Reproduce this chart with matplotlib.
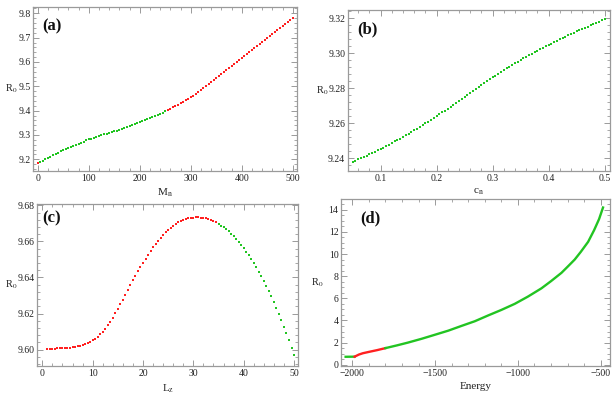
import matplotlib
matplotlib.use("Agg")
import matplotlib.pyplot as plt
from matplotlib.ticker import MultipleLocator, FormatStrFormatter

plt.rcParams['font.family'] = ['Liberation Serif', 'DejaVu Serif']
plt.rcParams['mathtext.fontset'] = 'stix'
plt.rcParams['axes.unicode_minus'] = True

# ---------------- data ----------------
# (a) R0 vs M_n
a_red1_x = [0]
a_red1_y = [9.184]
a_green_x = [5, 10, 15, 20, 25, 30, 35, 40, 45, 50, 55, 60, 65, 70, 75, 80, 85, 90, 95, 100,
             105, 110, 115, 120, 125, 130, 135, 140, 145, 150, 155, 160, 165, 170, 175, 180,
             185, 190, 195, 200, 205, 210, 215, 220, 225, 230, 235, 240, 245, 250]
a_green_y = [9.189, 9.195, 9.200, 9.206, 9.211, 9.216, 9.222, 9.227, 9.233, 9.238,
             9.242, 9.247, 9.251, 9.256, 9.260, 9.264, 9.269, 9.273, 9.278, 9.282,
             9.285, 9.289, 9.292, 9.296, 9.299, 9.302, 9.305, 9.309, 9.312, 9.315,
             9.318, 9.322, 9.325, 9.329, 9.332, 9.336, 9.340, 9.344, 9.348, 9.352,
             9.356, 9.360, 9.364, 9.368, 9.373, 9.378, 9.382, 9.387, 9.392, 9.397]
a_red2_x = [255, 260, 265, 270, 275, 280, 285, 290, 295, 300, 305, 310, 315, 320, 325,
            330, 335, 340, 345, 350, 355, 360, 365, 370, 375, 380, 385, 390, 395, 400,
            405, 410, 415, 420, 425, 430, 435, 440, 445, 450, 455, 460, 465, 470, 475,
            480, 485, 490, 495, 500]
a_red2_y = [9.402, 9.408, 9.413, 9.419, 9.424, 9.430, 9.436, 9.442, 9.448, 9.455,
            9.462, 9.470, 9.477, 9.485, 9.493, 9.501, 9.509, 9.517, 9.525, 9.533,
            9.541, 9.549, 9.558, 9.566, 9.574, 9.582, 9.590, 9.599, 9.607, 9.615,
            9.623, 9.632, 9.640, 9.649, 9.657, 9.665, 9.674, 9.682, 9.691, 9.699,
            9.707, 9.716, 9.724, 9.733, 9.741, 9.749, 9.757, 9.766, 9.774, 9.782]

# (b) R0 vs c_n
b_x = [0.050, 0.055, 0.060, 0.065, 0.070, 0.075, 0.080, 0.085, 0.090, 0.095,
       0.100, 0.105, 0.110, 0.115, 0.120, 0.125, 0.130, 0.135, 0.140, 0.145,
       0.150, 0.155, 0.160, 0.165, 0.170, 0.175, 0.180, 0.185, 0.190, 0.195,
       0.200, 0.205, 0.210, 0.215, 0.220, 0.225, 0.230, 0.235, 0.240, 0.245,
       0.250, 0.255, 0.260, 0.265, 0.270, 0.275, 0.280, 0.285, 0.290, 0.295,
       0.300, 0.305, 0.310, 0.315, 0.320, 0.325, 0.330, 0.335, 0.340, 0.345,
       0.350, 0.355, 0.360, 0.365, 0.370, 0.375, 0.380, 0.385, 0.390, 0.395,
       0.400, 0.405, 0.410, 0.415, 0.420, 0.425, 0.430, 0.435, 0.440, 0.445,
       0.450, 0.455, 0.460, 0.465, 0.470, 0.475, 0.480, 0.485, 0.490, 0.495, 0.500]
b_y = [9.2378, 9.2385, 9.2392, 9.2399, 9.2406, 9.2414, 9.2421, 9.2429, 9.2437, 9.2444,
       9.2452, 9.2460, 9.2469, 9.2477, 9.2486, 9.2495, 9.2503, 9.2512, 9.2521, 9.2530,
       9.2540, 9.2549, 9.2559, 9.2569, 9.2579, 9.2589, 9.2599, 9.2609, 9.2619, 9.2629,
       9.2640, 9.2651, 9.2661, 9.2672, 9.2683, 9.2694, 9.2705, 9.2716, 9.2727, 9.2739,
       9.2750, 9.2761, 9.2772, 9.2784, 9.2795, 9.2806, 9.2817, 9.2829, 9.2840, 9.2851,
       9.2862, 9.2872, 9.2883, 9.2893, 9.2903, 9.2913, 9.2923, 9.2933, 9.2943, 9.2952,
       9.2962, 9.2971, 9.2980, 9.2988, 9.2997, 9.3006, 9.3014, 9.3023, 9.3031, 9.3040,
       9.3048, 9.3056, 9.3064, 9.3071, 9.3079, 9.3087, 9.3094, 9.3102, 9.3110, 9.3117,
       9.3125, 9.3132, 9.3139, 9.3146, 9.3153, 9.3160, 9.3167, 9.3174, 9.3181, 9.3188, 9.3195]

# (c) R0 vs L_z
c_red_x = [1, 1.5, 2, 2.5, 3, 3.5, 4, 4.5, 5, 5.5, 6, 6.5, 7, 7.5, 8, 8.5, 9, 9.5, 10, 10.5,
           11, 11.5, 12, 12.5, 13, 13.5, 14, 14.5, 15, 15.5, 16, 16.5, 17, 17.5, 18, 18.5,
           19, 19.5, 20, 20.5, 21, 21.5, 22, 22.5, 23, 23.5, 24, 24.5, 25, 25.5, 26, 26.5,
           27, 27.5, 28, 28.5, 29, 29.5, 30, 30.5, 31, 31.5, 32, 32.5, 33, 33.5, 34, 34.5]
c_red_y = [9.6006, 9.6006, 9.6006, 9.6006, 9.6007, 9.6007, 9.6008, 9.6009, 9.6010, 9.6011,
           9.6013, 9.6015, 9.6018, 9.6021, 9.6025, 9.6030, 9.6036, 9.6043, 9.6051, 9.6061,
           9.6073, 9.6086, 9.6100, 9.6117, 9.6135, 9.6155, 9.6177, 9.6201, 9.6225, 9.6251,
           9.6277, 9.6304, 9.6331, 9.6358, 9.6384, 9.6409, 9.6434, 9.6458, 9.6481, 9.6504,
           9.6526, 9.6547, 9.6567, 9.6586, 9.6604, 9.6621, 9.6636, 9.6651, 9.6664, 9.6676,
           9.6687, 9.6697, 9.6705, 9.6712, 9.6718, 9.6723, 9.6727, 9.6730, 9.6732, 9.6733,
           9.6733, 9.6732, 9.6730, 9.6727, 9.6723, 9.6718, 9.6712, 9.6705]
c_green_x = [35, 35.5, 36, 36.5, 37, 37.5, 38, 38.5, 39, 39.5, 40, 40.5, 41, 41.5, 42, 42.5,
             43, 43.5, 44, 44.5, 45, 45.5, 46, 46.5, 47, 47.5, 48, 48.5, 49, 49.5, 50]
c_green_y = [9.6697, 9.6688, 9.6678, 9.6667, 9.6655, 9.6642, 9.6628, 9.6613, 9.6597, 9.6580,
             9.6562, 9.6543, 9.6523, 9.6502, 9.6480, 9.6457, 9.6433, 9.6408, 9.6382, 9.6355,
             9.6326, 9.6296, 9.6265, 9.6233, 9.6199, 9.6164, 9.6128, 9.6091, 9.6052, 9.6012,
             9.5971]

# (d) R0 vs Energy
d_green1_x = [-2040, -1986]
d_green1_y = [0.72, 0.73]
d_red_x = [-1986, -1960, -1936, -1900, -1850, -1800]
d_red_y = [0.73, 0.92, 1.04, 1.16, 1.32, 1.50]
d_green2_x = [-1800, -1730, -1664, -1580, -1503, -1420, -1342, -1260, -1180, -1100, -1019,
              -940, -858, -800, -737, -700, -657, -620, -576, -540, -510, -486]
d_green2_y = [1.50, 1.75, 2.00, 2.35, 2.70, 3.08, 3.50, 3.93, 4.45, 4.95, 5.50,
              6.15, 6.90, 7.55, 8.30, 8.85, 9.50, 10.20, 11.10, 12.15, 13.15, 14.20]

RED = '#ff2020'
GREEN = '#22c422'
FRAME = '#9a9a9a'
TXT = '#222222'

fig = plt.figure(figsize=(6.16, 3.96), dpi=100)

def style(ax, xmaj, xmin, ymaj, ymin, yfmt=None, xfmt=None):
    for s in ax.spines.values():
        s.set_color(FRAME)
        s.set_linewidth(0.9)
    ax.xaxis.set_major_locator(MultipleLocator(xmaj))
    ax.xaxis.set_minor_locator(MultipleLocator(xmin))
    ax.yaxis.set_major_locator(MultipleLocator(ymaj))
    ax.yaxis.set_minor_locator(MultipleLocator(ymin))
    if yfmt:
        ax.yaxis.set_major_formatter(FormatStrFormatter(yfmt))
    if xfmt:
        ax.xaxis.set_major_formatter(FormatStrFormatter(xfmt))
    ax.tick_params(which='both', direction='in', top=True, right=True,
                   color=FRAME, labelcolor=TXT, labelsize=7, pad=2)
    ax.tick_params(which='major', length=4, width=0.7)
    ax.tick_params(which='minor', length=2, width=0.6)

def panel_label(ax, s, x=0.035, y=0.93):
    ax.text(x, y, s, transform=ax.transAxes, fontsize=12, fontweight='bold',
            va='top', ha='left', color='#111111')

def rlabel(ax, xoff):
    ax.set_ylabel(r'R$_0$', rotation=0, fontsize=7.5, color=TXT, ha='center', va='center')
    ax.yaxis.set_label_coords(xoff, 0.5)

ms = 1.6

# (a)
ax = fig.add_axes([0.0541, 0.5682, 0.4281, 0.4134])
ax.plot(a_green_x, a_green_y, 's', color=GREEN, ms=ms, mew=0)
ax.plot(a_red1_x, a_red1_y, 's', color=RED, ms=ms, mew=0)
ax.plot(a_red2_x, a_red2_y, 's', color=RED, ms=ms, mew=0)
ax.set_xlim(-8.6, 508.5)
ax.set_ylim(9.152, 9.8247)
style(ax, 100, 20, 0.1, 0.02)
ax.set_xlabel(r'M$_\mathrm{n}$', fontsize=8, color=TXT, labelpad=3)
rlabel(ax, -0.083)
panel_label(ax, '(a)')

# (b)
ax = fig.add_axes([0.5649, 0.5682, 0.4248, 0.4066])
ax.plot(b_x, b_y, 's', color=GREEN, ms=ms, mew=0)
ax.set_xlim(0.0416, 0.509)
ax.set_ylim(9.2326, 9.3248)
style(ax, 0.1, 0.02, 0.02, 0.004, yfmt='%.2f')
ax.set_xlabel(r'c$_\mathrm{n}$', fontsize=8, color=TXT, labelpad=3)
rlabel(ax, -0.098)
panel_label(ax, '(b)')

# (c)
ax = fig.add_axes([0.0606, 0.075, 0.4237, 0.4098])
ax.plot(c_red_x, c_red_y, 's', color=RED, ms=ms, mew=0)
ax.plot(c_green_x, c_green_y, 's', color=GREEN, ms=ms, mew=0)
ax.set_xlim(-0.99, 50.85)
ax.set_ylim(9.5908, 9.6807)
style(ax, 10, 2, 0.02, 0.004, yfmt='%.2f')
ax.set_xlabel(r'L$_\mathrm{z}$', fontsize=8, color=TXT, labelpad=3)
rlabel(ax, -0.1)
panel_label(ax, '(c)', x=0.02, y=0.96)

# (d)
ax = fig.add_axes([0.5541, 0.075, 0.4357, 0.4225])
ax.plot(d_green1_x, d_green1_y, '-', color=GREEN, lw=1.7)
ax.plot(d_red_x, d_red_y, '-', color=RED, lw=1.7)
ax.plot(d_green2_x, d_green2_y, '-', color=GREEN, lw=1.7)
ax.set_xlim(-2066, -445.6)
ax.set_ylim(-0.14, 14.97)
style(ax, 500, 100, 2, 0.5)
ax.set_xlabel('Energy', fontsize=8, color=TXT, labelpad=3)
rlabel(ax, -0.09)
panel_label(ax, '(d)', x=0.07, y=0.93)

fig.savefig('out.png', dpi=100)
